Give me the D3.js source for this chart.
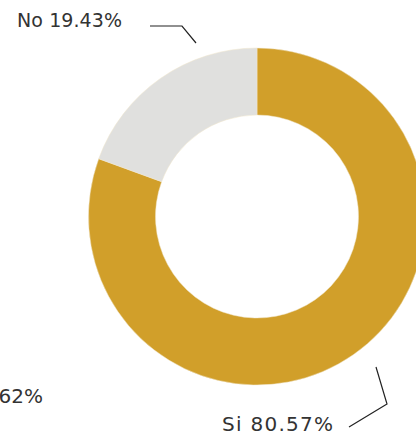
<!DOCTYPE html>
<html>
<head>
<meta charset="utf-8">
<script src="https://d3js.org/d3.v7.min.js"></script>
<style>
  body { margin: 0; background: #fff; }
  text { font-family: "DejaVu Sans", sans-serif; fill: #333; }
</style>
</head>
<body>
<div id="chart"></div>
<script>
var labels = ["Si", "No"],
    values = [80.57, 19.43],
    colors = ["#d19f2a", "#e0e0de"];

var w = 416,
    h = 434,
    cx = 257,
    cy = 216.5,
    outer = 168.5,
    inner = 101.5;

var svg = d3.select("#chart")
    .append("svg")
    .attr("width", w)
    .attr("height", h);

var pie = d3.pie()
    .sort(null)
    .value(function(d) { return d; });

var arc = d3.arc()
    .innerRadius(inner)
    .outerRadius(outer);

var g = svg.append("g")
    .attr("transform", "translate(" + cx + "," + cy + ")");

g.selectAll("path")
    .data(pie(values))
    .enter().append("path")
    .attr("d", arc)
    .style("fill", function(d, i) { return colors[i]; })
    .style("stroke", "#f0e6cc")
    .style("stroke-width", 0.5);

// leader lines
var lines = [
  [[349, 427], [387, 404], [376, 367]],
  [[150, 26], [182, 26], [196, 43]]
];

svg.selectAll("polyline")
    .data(lines)
    .enter().append("polyline")
    .attr("points", function(d) { return d.join(" "); })
    .style("fill", "none")
    .style("stroke", "#222")
    .style("stroke-width", 1.2);

svg.append("text")
    .attr("x", 222)
    .attr("y", 431)
    .attr("textLength", 111)
    .attr("lengthAdjust", "spacing")
    .style("font-size", "20px")
    .text(labels[0] + " " + values[0].toFixed(2) + "%");

svg.append("text")
    .attr("x", 17)
    .attr("y", 27)
    .attr("textLength", 105)
    .attr("lengthAdjust", "spacing")
    .style("font-size", "19px")
    .text(labels[1] + " " + values[1].toFixed(2) + "%");

svg.append("text")
    .attr("x", 43)
    .attr("y", 403)
    .attr("text-anchor", "end")
    .style("font-size", "20px")
    .text("62%");
</script>
</body>
</html>
